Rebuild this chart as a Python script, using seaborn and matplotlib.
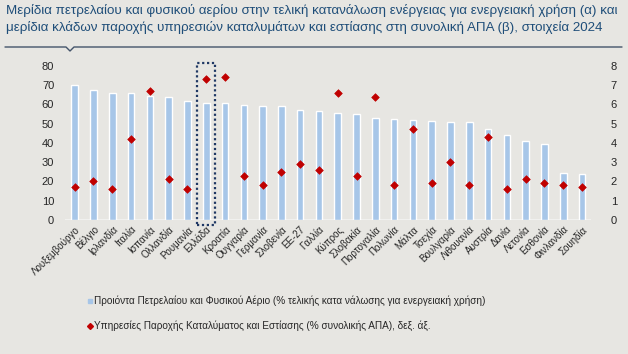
import pandas as pd
import seaborn as sns
import matplotlib.pyplot as plt
from matplotlib.patches import Rectangle
from matplotlib.lines import Line2D

# Δεδομένα (εκτίμηση από το γράφημα)
countries = ["Λουξεμβούργο", "Βέλγιο", "Ιρλανδία", "Ιταλία", "Ισπανία", "Ολλανδία", "Ρουμανία",
             "Ελλάδα", "Κροατία", "Ουγγαρία", "Γερμανία", "Σλοβενία", "ΕΕ-27", "Γαλλία", "Κύπρος",
             "Σλοβακία", "Πορτογαλία", "Πολωνία", "Μάλτα", "Τσεχία", "Βουλγαρία", "Λιθουανία",
             "Αυστρία", "Δανία", "Λετονία", "Εσθονία", "Φινλανδία", "Σουηδία"]
oil_gas = [70.0, 67.4, 65.7, 65.7, 64.3, 63.8, 61.7, 60.7, 60.5, 59.6, 59.1, 59.1, 57.0, 56.5,
           55.6, 54.8, 52.9, 52.2, 51.8, 51.3, 50.6, 50.6, 47.2, 44.1, 40.8, 39.4, 24.5, 23.8]
accommodation = [1.7, 2.0, 1.6, 4.2, 6.7, 2.1, 1.6, 7.3, 7.4, 2.3, 1.8, 2.5, 2.9, 2.6,
                 6.6, 2.3, 6.4, 1.8, 4.7, 1.9, 3.0, 1.8, 4.3, 1.6, 2.1, 1.9, 1.8, 1.7]

label_bar = "Προιόντα Πετρελαίου και Φυσικού Αέριο (% τελικής κατα νάλωσης για ενεργειακή χρήση)"
label_dot = "Υπηρεσίες Παροχής Καταλύματος και Εστίασης (% συνολικής ΑΠΑ), δεξ. άξ."

df = pd.DataFrame({"country": countries, "oil_gas": oil_gas, "acc": accommodation})

bg = "#E7E6E2"
bar_color = "#A7C6E8"
dot_color = "#C00000"
navy = "#1F3864"

sns.set_style("white")
plt.rcParams["font.family"] = ["Liberation Sans", "DejaVu Sans"]

fig = plt.figure(figsize=(6.28, 3.54), dpi=100, facecolor=bg)
ax = fig.add_axes([65.3 / 628, 134 / 354, 526.1 / 628, 154.3 / 354])
ax.set_facecolor(bg)

sns.barplot(data=df, x="country", y="oil_gas", color=bar_color, width=0.35,
            saturation=1, ax=ax)
ax.set_ylim(0, 80)
ax.set_xlim(-0.5, len(countries) - 0.5)
ax.set_yticks(range(0, 81, 10))
ax.tick_params(axis="y", labelsize=8, length=0, pad=8)
ax.tick_params(axis="x", length=0, pad=3)
ax.set_xticks(range(len(countries)))
ax.set_xticklabels(countries, rotation=45, ha="right", rotation_mode="anchor", fontsize=7)
ax.set_xlabel("")
ax.set_ylabel("")

ax2 = ax.twinx()
sns.scatterplot(x=list(range(len(countries))), y=accommodation, marker="D", s=15,
                color=dot_color, edgecolor=dot_color, linewidth=0.5, ax=ax2, zorder=5,
                clip_on=False)
ax2.set_ylim(0, 8)
ax2.set_yticks(range(0, 9))
ax2.tick_params(axis="y", labelsize=8, length=0, pad=14)

for a in (ax, ax2):
    for s in a.spines.values():
        s.set_visible(False)
ax.axhline(0, color="#F4F4F2", lw=1.2, zorder=0)

# Ελλάδα - διακεκομμένο πλαίσιο
ax.add_patch(Rectangle((6.5, -2.6), 0.97, 84.1, fill=False, ls=(0, (1, 1.2)),
                       lw=1.6, edgecolor=navy, clip_on=False, zorder=6))

# Τίτλος και γραμμή
fig.text(6 / 628, 1 - 4 / 354,
         "Μερίδια πετρελαίου και φυσικού αερίου στην τελική κατανάλωση ενέργειας για ενεργειακή χρήση (α) και\n"
         "μερίδια κλάδων παροχής υπηρεσιών καταλυμάτων και εστίασης στη συνολική ΑΠΑ (β), στοιχεία 2024",
         ha="left", va="top", fontsize=9.6, color="#1F4E79", linespacing=1.45)
xs = [5, 66, 70, 74, 622]
ys = [47, 47, 51, 47, 47]
fig.add_artist(Line2D([x / 628 for x in xs], [1 - y / 354 for y in ys],
                      color="#44546A", lw=1.0, transform=fig.transFigure))

# Υπόμνημα
handles = [Line2D([], [], marker="s", ls="", color=bar_color, markersize=3.5),
           Line2D([], [], marker="D", ls="", color=dot_color, markersize=3)]
fig.legend(handles, [label_bar, label_dot], loc="upper left",
           bbox_to_anchor=(83 / 628, 1 - 292 / 354), frameon=False, fontsize=7.2,
           handlelength=0.5, handletextpad=0.2, labelspacing=1.4, borderaxespad=0)

fig.savefig("out.png", dpi=100, facecolor=bg)
